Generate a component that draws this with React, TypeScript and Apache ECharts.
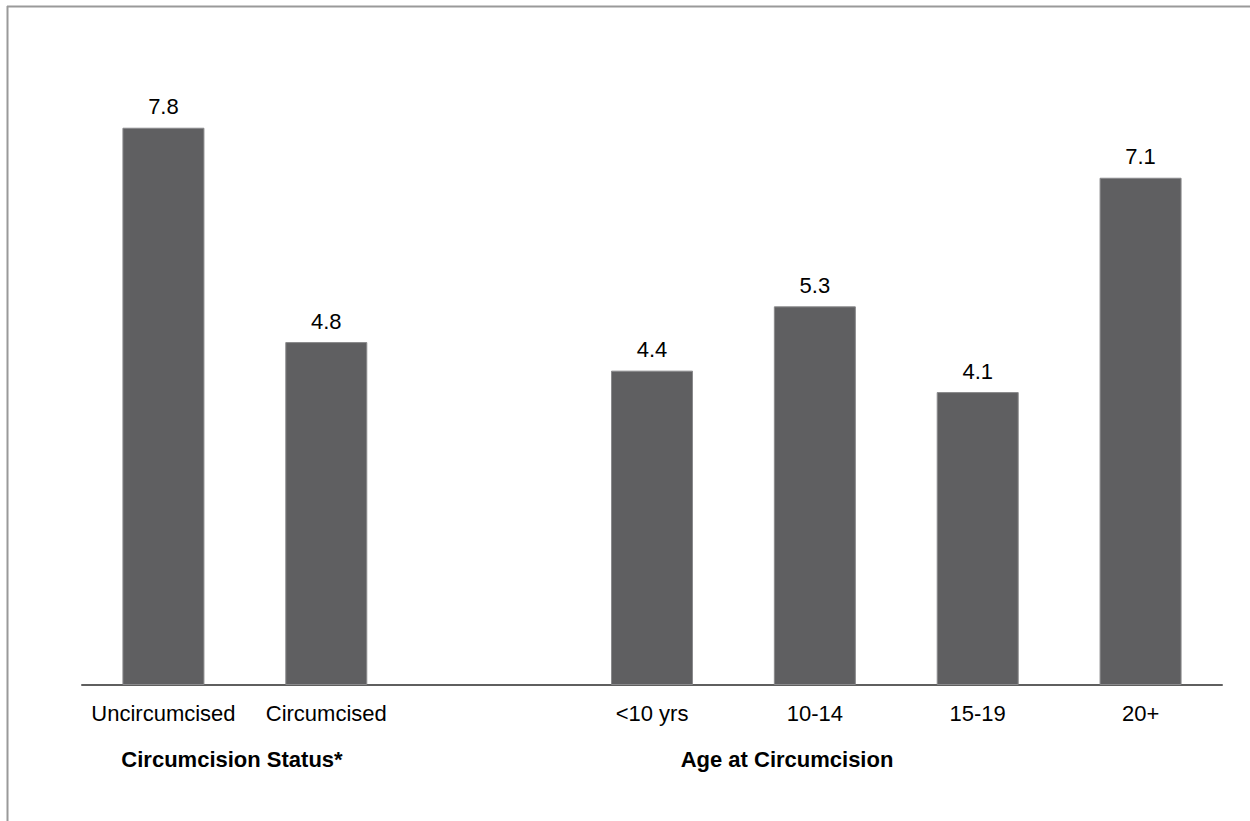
import React, { useEffect, useRef } from "react";
import * as echarts from "echarts";

const categories = ["Uncircumcised", "Circumcised", "", "<10 yrs", "10-14", "15-19", "20+"];
const values: (number | string)[] = [7.8, 4.8, "-", 4.4, 5.3, 4.1, 7.1];
const groupLabels = ["Circumcision Status*", "Age at Circumcision"];

const FONT = "Liberation Sans, Arial, Helvetica, sans-serif";

export default function App() {
  const ref = useRef<HTMLDivElement>(null);

  useEffect(() => {
    if (!ref.current) return;
    const chart = echarts.init(ref.current, undefined, { renderer: "svg" });
    chart.setOption({
      animation: false,
      backgroundColor: "#ffffff",
      grid: { left: 82, right: 28, top: 42, bottom: 136, containLabel: false },
      xAxis: {
        type: "category",
        data: categories,
        axisLine: { show: true, lineStyle: { color: "#5f5f5f", width: 2 } },
        axisTick: { show: false },
        axisLabel: { color: "#000", fontSize: 22, fontFamily: FONT, margin: 17, interval: 0 },
      },
      yAxis: {
        type: "value",
        min: 0,
        max: 9,
        show: false,
        splitLine: { show: false },
      },
      series: [
        {
          type: "bar",
          data: values,
          barWidth: 82,
          itemStyle: { color: "#5f5f61", borderColor: "#8a8a8c", borderWidth: 1 },
          label: {
            show: true,
            position: "top",
            distance: 10,
            color: "#000",
            fontSize: 22,
            fontFamily: FONT,
            formatter: (p: any) => Number(p.value).toFixed(1),
          },
        },
      ],
      graphic: [
        {
          type: "line",
          shape: { x1: 7, y1: 6.5, x2: 1250, y2: 6.5 },
          style: { stroke: "#9a9a9a", lineWidth: 2 },
        },
        {
          type: "line",
          shape: { x1: 7.5, y1: 6, x2: 7.5, y2: 821 },
          style: { stroke: "#9a9a9a", lineWidth: 2 },
        },
        {
          type: "text",
          x: 232,
          y: 759,
          style: {
            text: groupLabels[0],
            fill: "#000",
            font: `bold 22px ${FONT}`,
            textAlign: "center",
            textVerticalAlign: "middle",
          },
        },
        {
          type: "text",
          x: 787,
          y: 759,
          style: {
            text: groupLabels[1],
            fill: "#000",
            font: `bold 22px ${FONT}`,
            textAlign: "center",
            textVerticalAlign: "middle",
          },
        },
      ],
    });
    return () => chart.dispose();
  }, []);

  return (
    <div
      ref={ref}
      style={{ position: "fixed", left: 0, top: 0, width: 1250, height: 821 }}
    />
  );
}
